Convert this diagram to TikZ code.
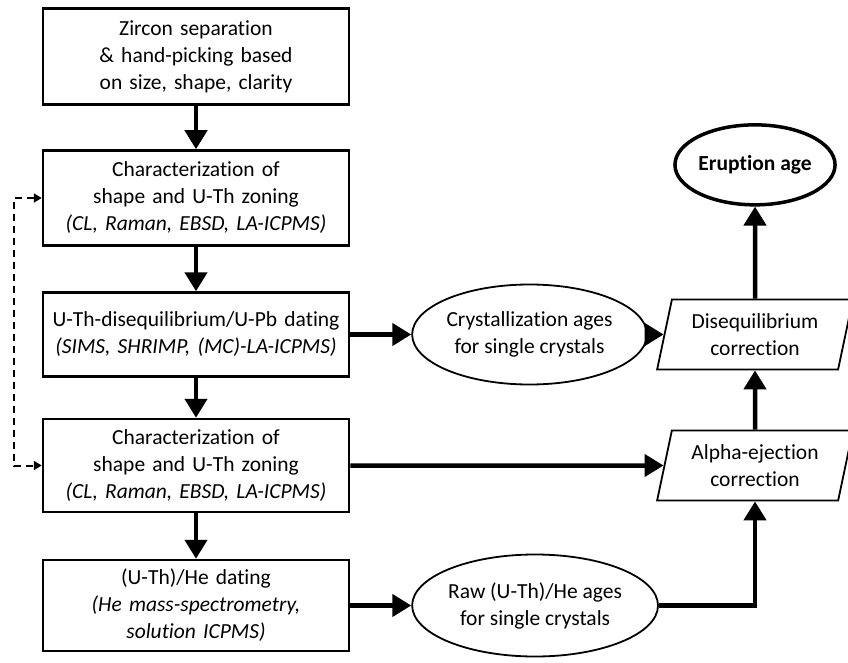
\documentclass[tikz,border=0pt]{standalone}
\usepackage{fontspec}
\setmainfont{Carlito}[Ligatures=NoCommon]
\usetikzlibrary{arrows.meta, positioning, shapes.geometric}

\begin{document}
\frenchspacing
\begin{tikzpicture}[
            x=1pt, y=-1pt,
            node distance=44pt,
            box/.style={rectangle, draw, line width=2.5pt, text width=305pt,
                        minimum width=306pt, minimum height=95pt, inner sep=0pt,
                        align=center, font=\fontsize{21.5}{27}\selectfont},
            agebox/.style={ellipse, draw, line width=1.8pt, minimum width=220pt,
                        minimum height=100pt, inner sep=0pt, align=center,
                        font=\fontsize{21.5}{27}\selectfont},
            corrbox/.style={trapezium, trapezium left angle=75, trapezium right angle=105,
                        trapezium stretches=true,
                        draw, line width=1.8pt, minimum width=196pt, minimum height=70pt,
                        inner sep=0pt, align=center, font=\fontsize{21.5}{27}\selectfont},
            arrow/.style={-{Triangle[length=19pt, width=22pt]}, line width=4.5pt},
            loopback/.style={{Triangle[length=8pt, width=9pt]}-{Triangle[length=8pt, width=9pt]},
                        line width=2pt, dash pattern=on 7pt off 5pt}
        ]
            \useasboundingbox (0,0) rectangle (848,663);
            \coordinate (corrcol) at (755,0);

            \node[box, minimum height=96pt] (sep) at (196,56.5)
                {Zircon separation\\ \& hand-picking based\\ on size, shape, clarity};
            \node[box, below=43.5pt of sep] (char1)
                {Characterization of\\ shape and U-Th zoning\\ \textit{(CL, Raman, EBSD, LA-ICPMS)}};
            \node[box, minimum height=84pt, below=44.5pt of char1] (useries)
                {U-Th-disequilibrium/U-Pb dating\\ \textit{(SIMS, SHRIMP, (MC)-LA-ICPMS)}};
            \node[box, minimum height=93pt, below=40pt of useries] (char2)
                {Characterization of\\ shape and U-Th zoning\\ \textit{(CL, Raman, EBSD, LA-ICPMS)}};
            \node[box, minimum height=91pt, below=45.5pt of char2] (uthhe)
                {(U-Th)/He dating\\ \textit{(He mass-spectrometry,}\\ \textit{solution ICPMS)}};

            \node[agebox, right=61pt of useries] (cryst) {Crystallization ages\\ for single crystals};
            \node[agebox, minimum height=102pt, right=61pt of uthhe] (raw) {Raw (U-Th)/He ages\\ for single crystals};

            \node[corrbox] (diseq) at (cryst -| corrcol) {Disequilibrium\\ correction};
            \node[corrbox] (alpha) at (char2 -| corrcol) {Alpha-ejection\\ correction};

            \node[ellipse, draw, line width=3.5pt, minimum width=138pt, minimum height=80pt,
                  inner sep=0pt, font=\fontsize{21.5}{27}\selectfont\bfseries,
                  above=92pt of diseq] (erupt) {Eruption age};

            \draw[arrow] (sep) -- (char1);
            \draw[arrow] (char1) -- (useries);
            \draw[arrow] (useries) -- (char2);
            \draw[arrow] (char2) -- (uthhe);
            \draw[loopback] (char1.west) -- ++(-28,0) |- (char2.west);

            \draw[arrow] (useries) -- (cryst);
            \draw[arrow] (cryst) -- (diseq);
            \draw[arrow] (char2.east) -- (alpha.west);
            \draw[arrow] (uthhe) -- (raw);
            \draw[arrow] (raw.east) -| (alpha.south);
            \draw[arrow] (alpha) -- (diseq);
            \draw[arrow] (diseq) -- (erupt);
        \end{tikzpicture}
\end{document}
